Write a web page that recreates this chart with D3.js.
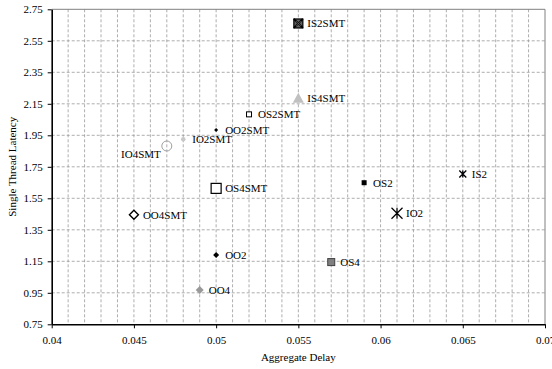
<!DOCTYPE html>
<html><head><meta charset="utf-8">
<script src="https://cdn.jsdelivr.net/npm/d3@7"></script>
<style>body{margin:0;background:#fff}svg{display:block}text{font-family:"Liberation Serif",serif}</style>
</head><body><svg id="c" width="552" height="369"></svg>
<script>
const names = ["IS2SMT","IS4SMT","OS2SMT","OO2SMT","IO2SMT","IO4SMT","OS4SMT","OO4SMT","OO2","OS4","OO4","OS2","IS2","IO2"];
const delay = [0.055,0.055,0.052,0.050,0.048,0.047,0.050,0.045,0.050,0.057,0.049,0.059,0.065,0.061];
const latency = [2.66,2.185,2.083,1.984,1.925,1.882,1.613,1.446,1.19,1.145,0.968,1.649,1.704,1.455];
const xTicks = [0.04,0.045,0.05,0.055,0.06,0.065,0.07];
const yTicks = [0.75,0.95,1.15,1.35,1.55,1.75,1.95,2.15,2.35,2.55,2.75];

const markerStyle = {
  IS2SMT:{shape:"boxx",size:9},
  IS4SMT:{shape:"tri",size:11,fill:"#c0c0c0"},
  OS2SMT:{shape:"sq",size:5,fill:"#fff",stroke:"#000",sw:1},
  OO2SMT:{shape:"dia",size:4,fill:"#000"},
  IO2SMT:{shape:"circ",size:4.5,fill:"#c8c8c8"},
  IO4SMT:{shape:"circ",size:10,fill:"none",stroke:"#a0a0a0",sw:1},
  OS4SMT:{shape:"sq",size:10,fill:"#fff",stroke:"#000",sw:1.2},
  OO4SMT:{shape:"dia",size:9,fill:"#fff",stroke:"#000",sw:1.4},
  OO2:{shape:"dia",size:6,fill:"#000"},
  OS4:{shape:"sq",size:7,fill:"#808080",stroke:"#404040",sw:1},
  OO4:{shape:"dia",size:8,fill:"#999"},
  OS2:{shape:"sq",size:5,fill:"#000"},
  IS2:{shape:"star",size:7,sw:1.3},
  IO2:{shape:"star",size:11,sw:1.2}
};
const labelLeft = {IO4SMT:true};
const FONT = "'Liberation Serif', 'Times New Roman', serif";

const svg = d3.select("#c");
const L=51.7, R=545, T=9.3, B=324.3;
const x = d3.scaleLinear().domain([0.04,0.07]).range([L,R]);
const y = d3.scaleLinear().domain([0.75,2.75]).range([B,T]);

// grid
const g = svg.append("g");
g.selectAll(".vg").data(d3.range(1,30).map(i=>0.04+i*0.001)).enter().append("line")
  .attr("x1",d=>x(d)).attr("x2",d=>x(d)).attr("y1",T).attr("y2",B)
  .attr("stroke","#999").attr("stroke-width",0.8).attr("stroke-dasharray","3,2");
g.selectAll(".hg").data(yTicks.slice(1,-1)).enter().append("line")
  .attr("x1",L).attr("x2",R).attr("y1",d=>y(d)).attr("y2",d=>y(d))
  .attr("stroke","#999").attr("stroke-width",0.8).attr("stroke-dasharray","3,2");
// top/right border
svg.append("line").attr("x1",L).attr("x2",R).attr("y1",T).attr("y2",T).attr("stroke","#808080").attr("stroke-width",1);
svg.append("line").attr("x1",R).attr("x2",R).attr("y1",T).attr("y2",B).attr("stroke","#808080").attr("stroke-width",1);

// axes
const xa = svg.append("g").attr("transform",`translate(0,${B})`)
  .call(d3.axisBottom(x).tickValues(xTicks).tickFormat(d=>String(+d.toFixed(3))).tickSize(4).tickSizeOuter(0).tickPadding(8));
const ya = svg.append("g").attr("transform",`translate(${L},0)`)
  .call(d3.axisLeft(y).tickValues(yTicks).tickFormat(d3.format(".2f")).tickSize(4).tickSizeOuter(0).tickPadding(5));
[xa,ya].forEach(a=>{
  a.attr("font-family",FONT).attr("font-size",11);
  a.select(".domain").attr("stroke","#000").attr("stroke-width",1.6);
  a.selectAll(".tick line").attr("stroke","#000").attr("stroke-width",1);
  a.selectAll("text").attr("font-family",FONT).attr("font-size",11).attr("fill","#000");
});

// axis titles
svg.append("text").attr("x",(L+R)/2).attr("y",361).attr("text-anchor","middle")
  .attr("font-family",FONT).attr("font-size",11).text("Aggregate Delay");
svg.append("text").attr("transform",`translate(16,${(T+B)/2}) rotate(-90)`).attr("text-anchor","middle")
  .attr("font-family",FONT).attr("font-size",11).text("Single Thread Latency");

// points
const pts = svg.append("g");
names.forEach((n,i)=>{
  const cx=x(delay[i]), cy=y(latency[i]), s=markerStyle[n], h=s.size/2;
  const p = pts.append("g").attr("transform",`translate(${cx},${cy})`);
  if(s.shape==="sq"){
    p.append("rect").attr("x",-h).attr("y",-h).attr("width",s.size).attr("height",s.size)
      .attr("fill",s.fill).attr("stroke",s.stroke||"none").attr("stroke-width",s.sw||0);
  } else if(s.shape==="dia"){
    p.append("path").attr("d",`M0,${-h}L${h},0L0,${h}L${-h},0Z`)
      .attr("fill",s.fill).attr("stroke",s.stroke||"none").attr("stroke-width",s.sw||0);
  } else if(s.shape==="circ"){
    p.append("circle").attr("r",h).attr("fill",s.fill).attr("stroke",s.stroke||"none").attr("stroke-width",s.sw||0);
  } else if(s.shape==="tri"){
    p.append("path").attr("d",`M0,${-h}L${h},${h*0.8}L${-h},${h*0.8}Z`).attr("fill",s.fill);
  } else if(s.shape==="boxx"){
    p.append("rect").attr("x",-h).attr("y",-h).attr("width",s.size).attr("height",s.size).attr("fill","#606060").attr("stroke","#000").attr("stroke-width",1.2);
    p.append("path").attr("d",`M${-h},${-h}L${h},${h}M${h},${-h}L${-h},${h}`).attr("stroke","#000").attr("stroke-width",1.8);
    p.append("path").attr("d",`M${-h+2},${-h+2}L${h-2},${h-2}M${h-2},${-h+2}L${-h+2},${h-2}`).attr("stroke","#fff").attr("stroke-width",0.6).attr("opacity",0.5);
  } else if(s.shape==="star"){
    p.append("path").attr("d",`M${-h},${-h}L${h},${h}M${h},${-h}L${-h},${h}M0,${-h}L0,${h}`)
      .attr("stroke","#000").attr("stroke-width",s.sw).attr("fill","none");
  }
  const left = labelLeft[n];
  pts.append("text").attr("x",left?cx-6:cx+9).attr("y",left?cy+8:cy).attr("dy","0.35em")
    .attr("text-anchor",left?"end":"start").attr("font-family",FONT).attr("font-size",11).attr("fill","#000").text(n);
});
</script></body></html>
